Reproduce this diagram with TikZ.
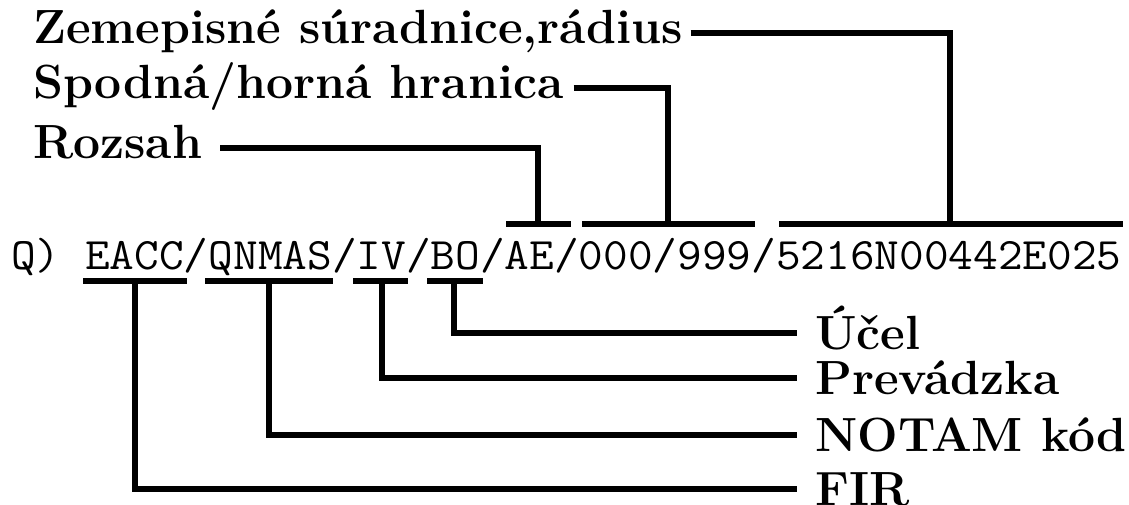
\documentclass[tikz,border=0pt]{standalone}
\usepackage{fontspec}
\usepackage{graphicx}
\begin{document}
\begin{tikzpicture}[x=1pt,y=-1pt,
  conn/.style={line width=5.3pt, line join=miter},
  lab/.style={font=\fontsize{48}{52}\selectfont\bfseries, inner ysep=0pt},
  rlab/.style={lab, anchor=west, inner xsep=18pt, text height=33pt, text depth=0pt},
  llab/.style={lab, anchor=west, inner xsep=0pt, text height=20pt, text depth=0pt},
  codefont/.style={font=\fontsize{45}{45}\selectfont\ttfamily, inner sep=0pt}]
\useasboundingbox (0,0) rectangle (1129,504);

% code line
\node[codefont, anchor=base west] (code) at (11,269)
  {\scalebox{1.065}[1]{Q) EACC/QNMAS/IV/BO/AE/000/999/5216N00442E025}};

% bottom bars
\coordinate (fa) at (83,281);  \coordinate (fb) at (187,281); \coordinate (fs) at (135,281);
\coordinate (na) at (205,281); \coordinate (nb) at (333,281); \coordinate (ns) at (269,281);
\coordinate (ia) at (353,281); \coordinate (ib) at (408,281); \coordinate (is) at (382,281);
\coordinate (ba) at (427,281); \coordinate (bb) at (483,281); \coordinate (bs) at (454,281);
% top bars
\coordinate (ra) at (506,224); \coordinate (rb) at (571,224); \coordinate (rs) at (538,224);
\coordinate (ha) at (582,224); \coordinate (hb) at (755,224); \coordinate (hs) at (668,224);
\coordinate (za) at (779,224); \coordinate (zb) at (1123,224); \coordinate (zs) at (950,224);

\foreach \a/\b in {fa/fb,na/nb,ia/ib,ba/bb,ra/rb,ha/hb,za/zb}
  \draw[conn] (\a) -- (\b);

% right labels
\node[rlab] (ucel) at (797,333) {Účel};
\node[rlab] (prev) at (797,378) {Prevádzka};
\node[rlab] (notam) at (797,435) {NOTAM kód};
\node[rlab] (fir) at (797,489) {FIR};

\draw[conn] (bs) |- (ucel.west);
\draw[conn] (is) |- (prev.west);
\draw[conn] (ns) |- (notam.west);
\draw[conn] (fs) |- (fir.west);

% left labels
\node[llab] (zem) at (33,33) {Zemepisné súradnice,rádius};
\node[llab] (spod) at (33,88) {Spodná/horná hranica};
\node[llab] (roz) at (33,148) {Rozsah};

\draw[conn] ([xshift=8pt]zem.east) -| (zs);
\draw[conn] ([xshift=10pt]spod.east) -| (hs);
\draw[conn] ([xshift=18pt]roz.east) -| (rs);
\end{tikzpicture}
\end{document}
